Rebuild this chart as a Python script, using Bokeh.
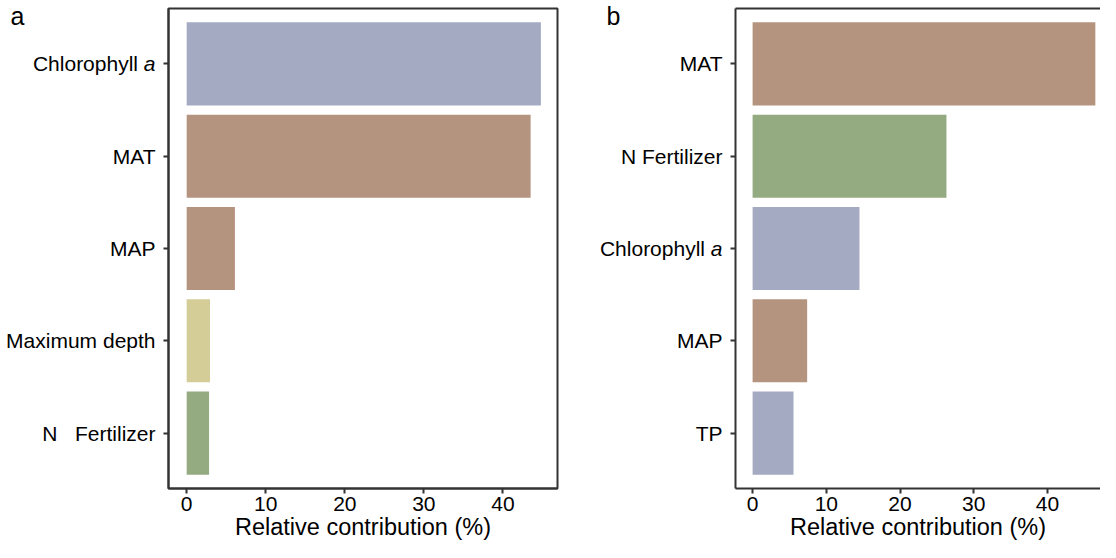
from bokeh.plotting import figure
from bokeh.models import Range1d, FixedTicker, LinearAxis, ColumnDataSource
from bokeh.layouts import row
from bokeh.embed import file_html
from bokeh.resources import INLINE

# ---- data ----
cats_a = ["Chlorophyll a", "MAT", "MAP", "Maximum depth", "N\u00a0\u00a0\u00a0Fertilizer"]
vals_a = [44.8, 43.5, 6.1, 2.95, 2.83]
cols_a = ["#A5AAC3", "#B5947F", "#B5947F", "#D4CD98", "#94AA80"]

cats_b = ["MAT", "N Fertilizer", "Chlorophyll a", "MAP", "TP"]
vals_b = [46.5, 26.3, 14.5, 7.4, 5.55]
cols_b = ["#B5947F", "#94AA80", "#A5AAC3", "#B5947F", "#A5AAC3"]

x_ticks = [0, 10, 20, 30, 40]
x_title = "Relative contribution (%)"
panel_letters = ["a", "b"]

FONT = "Liberation Sans"
LINE = "#333333"
TICK_FS = "21px"


def make_panel(cats, vals, cols, letter, width, border_left, border_right, xr,
               letter_standoff, boxed):
    n = len(cats)
    ys = list(range(n, 0, -1))
    p = figure(width=width, height=542, output_backend="svg", toolbar_location=None,
               x_range=Range1d(*xr), y_range=Range1d(0.4, n + 0.6),
               y_axis_location=None,
               min_border_left=border_left, min_border_right=border_right,
               min_border_top=8, min_border_bottom=40)
    src = ColumnDataSource(dict(y=ys, v=vals, c=cols))
    p.hbar(y="y", left=0, right="v", height=0.9, fill_color="c", line_color=None, source=src)
    p.grid.visible = False
    p.background_fill_color = "white"
    p.border_fill_color = "white"

    if boxed:
        p.outline_line_color = LINE
        p.outline_line_width = 2
        p.outline_line_alpha = 1
    else:
        p.outline_line_color = None
        top = LinearAxis(ticker=FixedTicker(ticks=[]), axis_line_color=LINE,
                         axis_line_width=2, major_tick_line_color=None,
                         minor_tick_line_color=None, major_label_text_font_size="0px",
                         major_tick_out=0, major_label_standoff=0)
        p.add_layout(top, "above")

    # inner left axis: axis line, tick marks, and the italic "a" of "Chlorophyll a"
    inner = {}
    outer = {}
    for y, c in zip(ys, cats):
        if c.endswith(" a"):
            inner[y] = "a"
            outer[y] = c[:-2] + "\u00a0\u00a0\u00a0"
        else:
            inner[y] = ""
            outer[y] = c
    ax_in = LinearAxis(ticker=FixedTicker(ticks=ys), major_label_overrides=inner,
                       axis_line_color=LINE, axis_line_width=2,
                       major_tick_line_color=LINE, major_tick_line_width=2,
                       major_tick_out=5, major_tick_in=0, minor_tick_line_color=None,
                       major_label_standoff=8, major_label_text_font=FONT,
                       major_label_text_font_size=TICK_FS,
                       major_label_text_font_style="italic",
                       major_label_text_color="black")
    ax_cat = LinearAxis(ticker=FixedTicker(ticks=ys), major_label_overrides=outer,
                        axis_line_color=None, major_tick_line_color=None,
                        major_tick_out=0, major_tick_in=0, minor_tick_line_color=None,
                        major_label_standoff=-15, major_label_text_font=FONT,
                        major_label_text_font_size=TICK_FS,
                        major_label_text_color="black")
    ax_letter = LinearAxis(ticker=FixedTicker(ticks=[n + 0.52]),
                           major_label_overrides={n + 0.52: letter},
                           axis_line_color=None, major_tick_line_color=None,
                           major_tick_out=0, major_tick_in=0, minor_tick_line_color=None,
                           major_label_standoff=letter_standoff, major_label_text_font=FONT,
                           major_label_text_font_size="25px",
                           major_label_text_color="black")
    p.add_layout(ax_in, "left")
    p.add_layout(ax_cat, "left")
    p.add_layout(ax_letter, "left")

    xa = p.below[0]
    xa.ticker = FixedTicker(ticks=x_ticks)
    xa.axis_label = x_title
    xa.axis_label_text_font = FONT
    xa.axis_label_text_font_size = "23.5px"
    xa.axis_label_text_font_style = "normal"
    xa.axis_label_text_color = "black"
    xa.axis_label_standoff = 0
    xa.axis_line_color = LINE
    xa.axis_line_width = 2
    xa.major_tick_line_color = LINE
    xa.major_tick_line_width = 2
    xa.major_tick_out = 5
    xa.major_tick_in = 0
    xa.minor_tick_line_color = None
    xa.major_label_text_font = FONT
    xa.major_label_text_font_size = TICK_FS
    xa.major_label_text_color = "black"
    xa.major_label_standoff = 3
    return p


pa = make_panel(cats_a, vals_a, cols_a, panel_letters[0], 560, 168, 3, (-2.3, 46.9), -21, True)
pb = make_panel(cats_b, vals_b, cols_b, panel_letters[1], 540, 175, 0, (-2.32, 47.2), -24, False)

layout = row(pa, pb)
open("out.html", "w").write(file_html(layout, INLINE))
